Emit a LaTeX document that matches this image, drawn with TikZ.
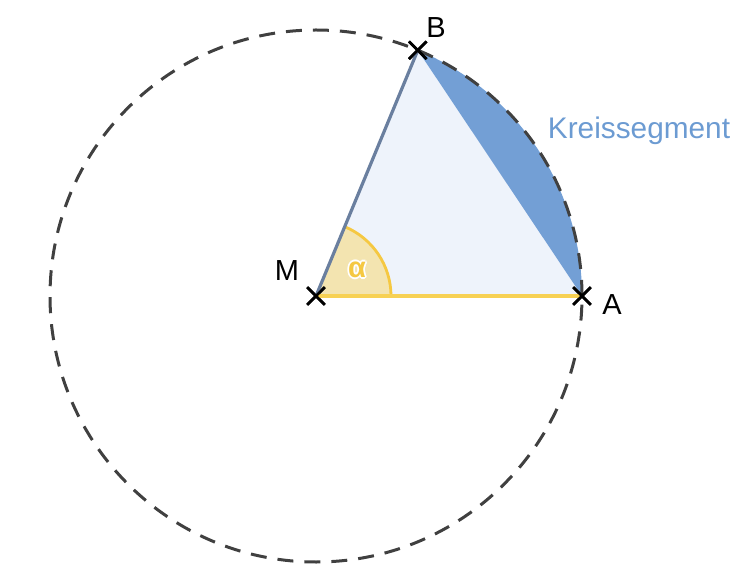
\documentclass[tikz,border=0pt]{standalone}
\usepackage{fontspec}
\setmainfont{Liberation Sans}
\usetikzlibrary{calc,shapes.misc}
\definecolor{trifill}{HTML}{EEF3FB}
\definecolor{segfill}{HTML}{739FD5}
\definecolor{mbline}{HTML}{6A7F9F}
\definecolor{maline}{HTML}{F7D154}
\definecolor{angfill}{HTML}{F3E4B0}
\definecolor{angline}{HTML}{F5C842}
\definecolor{circline}{HTML}{404040}
\definecolor{segtext}{HTML}{6C9BD2}
\tikzset{
  crossmark/.style={cross out, draw=black, line width=2.6pt, minimum size=15pt, inner sep=0pt},
  ptlabel/.style={inner sep=0pt, font=\fontsize{29}{31}\selectfont, text=black},
  alphatext/.style={inner sep=0pt, font=\fontsize{29}{31}\selectfont\bfseries},
}
\begin{document}
\begin{tikzpicture}[x=1pt,y=1pt]
\useasboundingbox (0,0) rectangle (752,587);
\coordinate (Mc) at (316,291);
\coordinate (Ac) at ($(Mc)+(0:266)$);
\coordinate (Bc) at ($(Mc)+(67.5:266)$);
% triangle
\fill[trifill] (Mc) -- (Ac) -- (Bc) -- cycle;
% segment
\fill[segfill] (Ac) arc[start angle=0, end angle=67.5, radius=266] -- cycle;
% angle
\fill[angfill] (Mc) -- ($(Mc)+(0:75)$) arc[start angle=0, end angle=67.5, radius=75] -- cycle;
\draw[angline, line width=2.8pt] ($(Mc)+(0:75)$) arc[start angle=0, end angle=67.5, radius=75];
% circle
\node[circle, minimum size=532pt, inner sep=0pt, draw=circline, line width=3pt, dash pattern=on 16pt off 11pt] (circ) at (Mc) {};
% points
\node[crossmark] (M) at (Mc) {};
\node[crossmark] (A) at (Ac) {};
\node[crossmark] (B) at (Bc) {};
% sides
\draw[mbline, line width=3.2pt] (M.center) -- (B.center);
\draw[maline, line width=3.2pt] (M.center) -- (A.center);
\node[crossmark] at (Mc) {};
\node[crossmark] at (Ac) {};
\node[crossmark] at (Bc) {};
% labels
\node[ptlabel] (lM) at (287,316) {M};
\node[ptlabel] (lA) at (612,282) {A};
\node[ptlabel] (lB) at (436,559.5) {B};
\node[inner sep=0pt, anchor=base, text=segtext, font=\fontsize{29.8}{32}\selectfont] (lseg) at (639,448) {Kreissegment};
% alpha with white outline
\foreach \dx/\dy in {1.8/0,-1.8/0,0/1.8,0/-1.8,1.3/1.3,-1.3/1.3,1.3/-1.3,-1.3/-1.3}{
  \node[alphatext, text=white] at ($(357,317)+(\dx,\dy)$) {α};
}
\node[alphatext, text=angline] (lalpha) at (357,317) {α};
\end{tikzpicture}
\end{document}
